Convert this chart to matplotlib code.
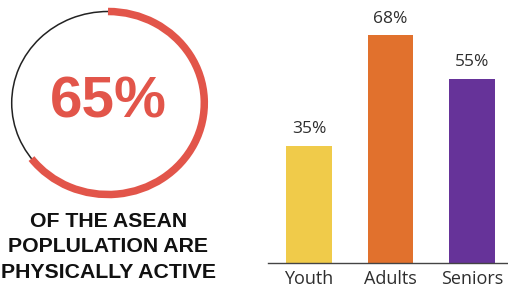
import matplotlib
matplotlib.use("Agg")
import matplotlib.pyplot as plt
from matplotlib.patches import Arc

# ---- data ----
categories = ["Youth", "Adults", "Seniors"]
values = [35, 68, 55]
bar_colors = ["#F0CB4A", "#E1712D", "#663399"]
gauge_value = 65
gauge_lines = ["OF THE ASEAN", "POPLULATION ARE", "PHYSICALLY ACTIVE"]

W, H = 508, 289
fig = plt.figure(figsize=(W / 100, H / 100), dpi=100)

# ---- gauge (pixel coordinate overlay) ----
axg = fig.add_axes([0, 0, 1, 1])
axg.set_xlim(0, W)
axg.set_ylim(0, H)
axg.axis("off")
cx, cy = 108, H - 103
rx, ry = 96.3, 91.5
axg.add_patch(Arc((cx, cy), 2 * rx, 2 * ry, theta1=0, theta2=360,
                  color="#222222", lw=1.1))
sweep = gauge_value / 100 * 360
axg.add_patch(Arc((cx, cy), 2 * rx, 2 * ry, theta1=90 - sweep, theta2=90,
                  color="#E2554A", lw=5.4))
axg.text(cx, cy, f"{gauge_value}%", ha="center", va="center",
         fontsize=42, fontweight="bold", family="Liberation Sans",
         color="#E2554A")
line_y = [221.3, 247.0, 273.0]
for txt, yy in zip(gauge_lines, line_y):
    axg.text(108.5, H - yy, txt, ha="center", va="center",
             fontsize=15.3, fontweight="bold", family="Liberation Sans",
             color="#111111")

# ---- bar chart ----
ax = fig.add_axes([268 / W, 26 / H, 1 - 268 / W, 1 - 26 / H])
ax.patch.set_visible(False)
x = list(range(len(categories)))
bars = ax.bar(x, values, width=0.564, color=bar_colors)
ax.set_xlim(-0.503, 2.442)
ax.set_ylim(0, 78.5)
for xi, v in zip(x, values):
    ax.annotate(f"{v}%", (xi, v), xytext=(0, 6), textcoords="offset points",
                ha="center", va="bottom", fontsize=12.5, family="Open Sans",
                color="#2E2E2E")
ax.set_xticks(x)
ax.set_xticklabels(categories, fontsize=13, family="Open Sans", color="#2E2E2E")
ax.tick_params(axis="x", length=0, pad=5)
ax.set_yticks([])
for s in ["top", "right", "left"]:
    ax.spines[s].set_visible(False)
ax.spines["bottom"].set_color("#444444")
ax.spines["bottom"].set_linewidth(1.0)

fig.savefig("out.png", dpi=100)
